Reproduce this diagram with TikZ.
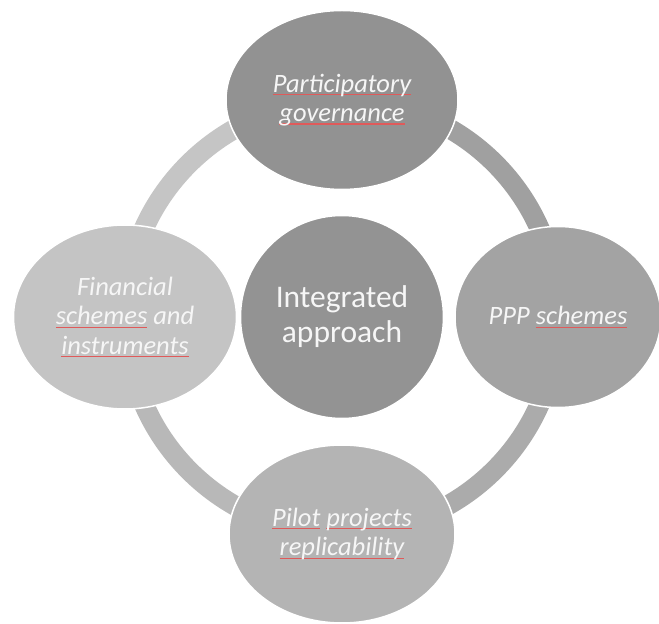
\documentclass[tikz,border=0pt]{standalone}
\usepackage{fontspec}
\setmainfont{Carlito}
\usetikzlibrary{shapes.geometric}

\definecolor{hubgray}{HTML}{939393}
\definecolor{topgray}{HTML}{929292}
\definecolor{rightgray}{HTML}{A3A3A3}
\definecolor{bottomgray}{HTML}{B4B4B4}
\definecolor{leftgray}{HTML}{C4C4C4}
\definecolor{ringtr}{HTML}{A0A0A0}
\definecolor{ringbr}{HTML}{ABABAB}
\definecolor{ringbl}{HTML}{B8B8B8}
\definecolor{ringtl}{HTML}{C5C5C5}
\definecolor{labelwhite}{HTML}{F6F6F6}
\definecolor{spellred}{HTML}{E05A5A}

% spell-check marks under some words
\newsavebox{\spellbox}
\newcommand{\spell}[1]{\sbox{\spellbox}{#1}\leavevmode
  \rlap{\textcolor{spellred}{\rule[-3pt]{\wd\spellbox}{1.1pt}}}%
  \textcolor{labelwhite}{\usebox{\spellbox}}}

\tikzset{
  blob/.style={ellipse, draw=white, line width=1.5pt, inner sep=0pt, align=center,
    text=labelwhite, font=\fontsize{26.5}{29.3}\selectfont\itshape},
  ring/.style={line width=20pt}
}

\begin{document}
\begin{tikzpicture}[x=1pt,y=1pt]
    \useasboundingbox (-342,-307) rectangle (317,317);

    % Points on the ring
    \coordinate (pTop) at (90:217);
    \coordinate (pRight) at (0:216);
    \coordinate (pBottom) at (270:217);
    \coordinate (pLeft) at (180:217);

    % Ring
    \draw[ring, draw=ringtr] (pTop) arc[start angle=90, end angle=0, radius=216];
    \draw[ring, draw=ringbr] (pRight) arc[start angle=0, end angle=-90, radius=216];
    \draw[ring, draw=ringbl] (pBottom) arc[start angle=270, end angle=180, radius=216];
    \draw[ring, draw=ringtl] (pLeft) arc[start angle=180, end angle=90, radius=216];

    % Outer ellipses
    \node[blob, fill=topgray, minimum width=232pt, minimum height=179pt] (gov) at (pTop)
        {\spell{Participatory}\\\spell{governance}};
    \node[blob, fill=rightgray, minimum width=206pt, minimum height=181pt] (ppp) at (pRight)
        {PPP \spell{schemes}};
    \node[blob, fill=bottomgray, minimum width=226pt, minimum height=178pt] (pilot) at (pBottom)
        {\spell{Pilot} \spell{projects}\\\spell{replicability}};
    \node[blob, fill=leftgray, minimum width=223pt, minimum height=184pt] (fin) at (pLeft)
        {Financial\\\spell{schemes} and\\\spell{instruments}};

    % Hub
    \node[blob, fill=hubgray, minimum size=203pt, font=\fontsize{31.5}{35}\selectfont] (hub) at (0,0)
        {Integrated\\approach};
\end{tikzpicture}
\end{document}
